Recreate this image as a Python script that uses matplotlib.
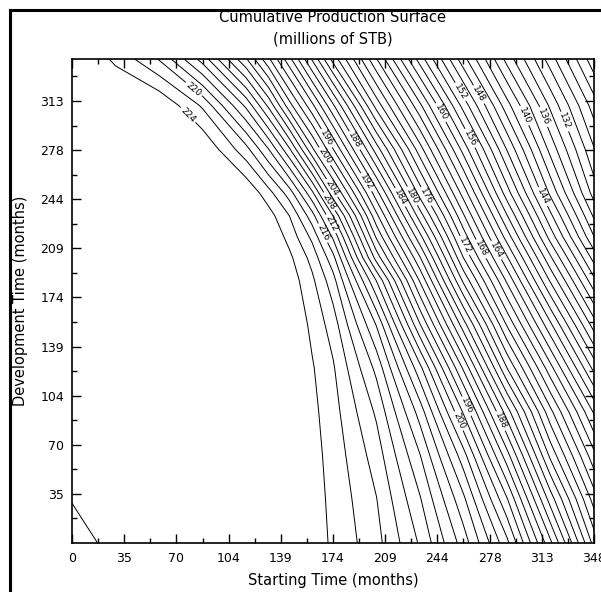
import numpy as np
import matplotlib
matplotlib.use("Agg")
import matplotlib.pyplot as plt
from matplotlib.lines import Line2D

plt.rcParams["font.family"] = "DejaVu Sans"

# sampling grid (months): starting time across, development time up
start_time = [0, 29, 58, 87, 116, 131, 145, 160, 174, 203, 232, 261, 290, 319, 348]
dev_time = [0, 31, 62, 93, 124, 155, 186, 202, 217, 232, 248, 279, 310, 343]

# cumulative production at each node, millions of STB (one row per dev_time)
production = np.array([
    [227.0, 225.3, 225.0, 224.9, 224.8, 225.0, 225.0, 224.97, 223.70, 220.66, 215.74, 209.05, 200.55, 188.44, 175.27],
    [225.9, 225.2, 225.0, 224.9, 224.8, 225.0, 225.0, 224.90, 223.50, 220.06, 214.19, 206.45, 196.19, 183.06, 171.09],
    [225.6, 225.2, 225.0, 224.9, 224.8, 225.0, 225.0, 224.77, 223.23, 219.06, 212.09, 202.82, 190.80, 177.47, 166.59],
    [225.5, 225.2, 225.0, 224.9, 224.8, 225.0, 225.0, 224.55, 222.83, 217.65, 209.10, 197.71, 184.94, 172.55, 161.71],
    [225.4, 225.2, 225.0, 224.9, 224.9, 225.0, 225.0, 224.21, 222.26, 215.44, 204.60, 191.64, 178.02, 166.68, 155.34],
    [225.3, 225.1, 225.0, 224.9, 224.9, 225.2, 225.88, 223.53, 221.05, 211.82, 198.07, 184.83, 171.72, 160.33, 148.95],
    [225.2, 225.1, 225.0, 224.9, 224.9, 225.3, 225.19, 222.45, 218.81, 205.91, 191.75, 177.54, 165.63, 153.71, 142.54],
    [225.2, 225.1, 225.0, 224.9, 225.0, 225.5, 224.46, 221.33, 216.67, 201.17, 188.19, 174.01, 162.29, 150.35, 139.20],
    [225.1, 225.0, 224.9, 224.9, 225.5, 225.9, 223.30, 219.52, 213.68, 197.68, 184.61, 171.07, 159.08, 147.16, 136.05],
    [225.1, 225.0, 224.9, 224.9, 225.5, 224.87, 221.97, 216.85, 209.94, 194.49, 180.94, 168.23, 156.10, 144.45, 133.63],
    [225.1, 225.0, 224.9, 224.9, 225.8, 222.80, 219.02, 212.54, 204.71, 190.76, 177.14, 165.11, 152.93, 141.53, 131.14],
    [225.1, 225.0, 224.9, 225.9, 220.73, 216.07, 210.23, 202.49, 196.11, 182.96, 170.84, 159.21, 147.87, 137.29, 128.15],
    [225.3, 225.9, 225.9, 221.71, 213.58, 207.58, 200.78, 194.58, 188.36, 175.20, 164.43, 153.20, 142.78, 133.57, 125.00],
    [225.9, 223.67, 219.85, 213.17, 204.25, 198.40, 192.58, 185.79, 179.24, 168.11, 157.07, 146.71, 137.27, 128.94, 120.66],
])

# contour every 2, label every 4 at these spots
plain_levels = np.arange(122, 228, 4)
label_spots = {
    132: [(334, 301)],
    136: [(319, 304)],
    140: [(304, 304)],
    144: [(313, 245)],
    148: [(273, 319)],
    152: [(261, 321)],
    156: [(262, 285)],
    160: [(244, 304)],
    164: [(282, 207)],
    168: [(272, 208)],
    172: [(262, 211)],
    176: [(235, 245)],
    180: [(227, 246)],
    184: [(219, 245)],
    188: [(188, 285), (287, 87)],
    192: [(195, 255)],
    196: [(170, 287), (265, 98)],
    200: [(167, 273), (261, 88)],
    204: [(171, 250)],
    208: [(167, 239)],
    212: [(167, 223)],
    216: [(160, 216)],
    220: [(83, 324)],
    224: [(78, 304)],
}
# labelled levels that run off the plot without a label
bare_levels = [124, 128]

tick_vals = np.arange(0, 348.1, 34.8)
tick_text = ["0", "35", "70", "104", "139", "174", "209", "244", "278", "313", "348"]
minor_vals = np.arange(17.4, 348, 34.8)

W, H = 601, 592
fig = plt.figure(figsize=(W / 100, H / 100), dpi=100)
ax = fig.add_axes([72 / W, 1 - 543 / H, (594 - 72) / W, (543 - 59) / H])

line_kw = dict(colors="black", linewidths=0.7)
ax.contour(start_time, dev_time, production, levels=plain_levels, **line_kw)
ax.contour(start_time, dev_time, production, levels=bare_levels, **line_kw)
for lev, spots in label_spots.items():
    cs = ax.contour(start_time, dev_time, production, levels=[lev], **line_kw)
    cs.clabel(manual=spots, fmt="%d", fontsize=6.5, inline=True,
              inline_spacing=2)

ax.set_xlim(0, 348)
ax.set_ylim(0, 343)
ax.set_xticks(tick_vals)
ax.set_xticklabels(tick_text)
ax.set_yticks(tick_vals[1:10])
ax.set_yticklabels(tick_text[1:10])
ax.set_xticks(minor_vals, minor=True)
ax.set_yticks(minor_vals, minor=True)
ax.tick_params(which="both", direction="in", top=True, right=True,
               width=1, labelsize=9)
ax.tick_params(which="major", length=6.3)
ax.tick_params(which="minor", length=3.6)
ax.tick_params(axis="x", pad=6.5)
ax.tick_params(axis="y", pad=5.8)
for sp in ax.spines.values():
    sp.set_linewidth(1.2)

fig.text(333 / W, 1 - 22.5 / H, "Cumulative Production Surface",
         ha="center", va="baseline", fontsize=10.5)
fig.text(333 / W, 1 - 44 / H, "(millions of STB)",
         ha="center", va="baseline", fontsize=10.5)
fig.text(333 / W, 1 - 585 / H, "Starting Time (months)",
         ha="center", va="baseline", fontsize=10.5)
fig.text(21 / W, 1 - 301 / H, "Development Time (months)",
         ha="center", va="center", rotation=90, fontsize=10.5)

# heavy frame on the left and top
fx, fy = 9.7 / W, 1 - 9.7 / H
fig.add_artist(Line2D([fx, fx], [fy, 0], transform=fig.transFigure,
                      color="black", lw=2.2, solid_capstyle="projecting"))
fig.add_artist(Line2D([fx, 1], [fy, fy], transform=fig.transFigure,
                      color="black", lw=2.2, solid_capstyle="projecting"))

fig.savefig("out.png", dpi=100)
